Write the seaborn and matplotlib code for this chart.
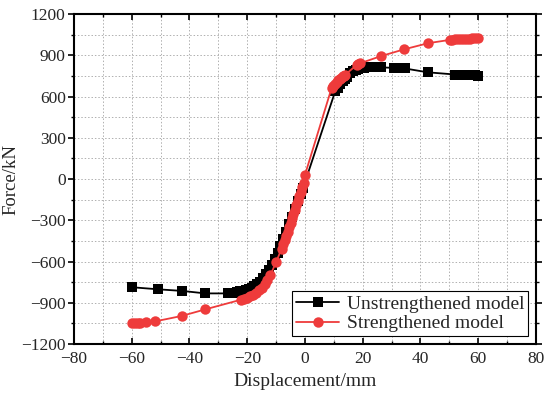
import numpy as np
import pandas as pd
import matplotlib
matplotlib.use('Agg')
import matplotlib.pyplot as plt
from matplotlib.ticker import MultipleLocator
import seaborn as sns

# Unstrengthened model (black squares)
unstr_disp = [-60, -51, -42.5, -34.5, -26.5, -25.5, -24.5, -23.5, -22.5, -21.5, -20.5,
              -19.5, -18.5, -17.5, -16.5, -15.5, -14.5, -13.5, -12.5, -11.5, -10.5,
              -9.5, -8.5, -7.5, -6.5, -5.5, -4.5, -3.5, -2.5, -1.5, -0.6,
              10.5, 11.5, 12.1, 13.0, 13.9, 14.4, 15.5, 16.5, 17.5, 18.5, 19.5, 20.5,
              21.5, 24.5, 25.5, 26.5, 30.8, 31.8, 32.8, 33.8, 34.6, 42.5,
              52, 53, 54, 55, 56, 57, 58, 59, 60]
unstr_force = [-787, -802, -814, -832, -832, -830, -826, -822, -817, -812, -806,
               -799, -790, -779, -765, -746, -722, -693, -660, -622, -580,
               -535, -488, -438, -385, -330, -275, -218, -162, -108, -62,
               640, 665, 690, 710, 730, 745, 768, 783, 794, 801, 806, 809,
               811, 813, 813, 812, 808, 807, 806, 805, 804, 776,
               760, 759, 758, 757, 756, 755, 754, 753, 752]

# Strengthened model (red circles)
str_disp = [-60, -59, -58, -57, -55, -52, -42.7, -34.5, -22, -21, -20, -19, -18, -17,
            -16, -15, -14, -13, -12, -10, -8.1, -7.5, -7, -6.5, -6, -5.5, -5, -4.5,
            -4, -3.5, -3, -2.5, -2, -1.5, -1, -0.5, 0,
            9.2, 9.8, 10.4, 11.0, 11.5, 12.0, 12.5, 13.0, 13.4, 13.85, 17.9, 18.5, 19.1,
            26.5, 34.3, 42.7, 50.2, 51, 52, 53, 54, 55, 56, 57, 58, 59, 60]
str_force = [-1047, -1046, -1045, -1044, -1042, -1036, -996, -948, -877, -870, -862, -852,
             -840, -827, -810, -790, -765, -735, -700, -605, -506, -475, -445, -415,
             -385, -352, -320, -287, -255, -222, -190, -157, -125, -92, -60, -28, 30,
             660, 675, 690, 705, 718, 728, 738, 746, 752, 757, 829, 835, 842,
             895, 943, 988, 1012, 1014, 1016, 1017, 1018, 1019, 1020, 1021, 1022, 1023, 1024]

df = pd.concat([
    pd.DataFrame({'disp': unstr_disp, 'force': unstr_force, 'model': 'Unstrengthened model'}),
    pd.DataFrame({'disp': str_disp, 'force': str_force, 'model': 'Strengthened model'}),
])

sns.set_theme(style='ticks')
plt.rcParams['font.family'] = ['Liberation Serif', 'DejaVu Serif']

fig = plt.figure(figsize=(5.5, 3.97), dpi=100)
ax = fig.add_axes([0.1345, 0.1335, 0.84, 0.8312])

palette = {'Unstrengthened model': 'black', 'Strengthened model': '#ee3b3b'}
markers = {'Unstrengthened model': 's', 'Strengthened model': 'o'}
sns.lineplot(data=df, x='disp', y='force', hue='model', style='model',
             palette=palette, markers=markers, dashes=False, sort=False,
             estimator=None, markersize=7.5, markeredgewidth=0, linewidth=1.3,
             ax=ax)

ax.set_xlim(-80, 80)
ax.set_ylim(-1200, 1200)
ax.xaxis.set_major_locator(MultipleLocator(20))
ax.xaxis.set_minor_locator(MultipleLocator(10))
ax.yaxis.set_major_locator(MultipleLocator(300))
ax.yaxis.set_minor_locator(MultipleLocator(150))

ax.grid(True, which='both', color='#b0b0b0', linestyle=(0, (1.5, 2)), linewidth=0.7)
ax.set_axisbelow(True)
for s in ax.spines.values():
    s.set_linewidth(1.5)
    s.set_color('black')

ax.tick_params(axis='x', which='both', direction='in', top=True, labelsize=12.5, pad=5)
ax.tick_params(axis='y', which='both', direction='out', right=True, labelsize=12.5, pad=2)
ax.tick_params(which='major', length=4, width=1.2, color='black')
ax.tick_params(which='minor', length=2, width=1.0, color='black')

ax.set_xlabel('Displacement/mm', fontsize=14, labelpad=4)
ax.set_ylabel('Force/kN', fontsize=13.5, labelpad=1)

leg = ax.legend(loc='lower right', fontsize=14, frameon=True, fancybox=False,
                edgecolor='black', framealpha=1, borderpad=0.2, labelspacing=0.1,
                handlelength=2.2, handletextpad=0.4, borderaxespad=0.4)
leg.get_frame().set_linewidth(0.8)

fig.savefig('out.png', dpi=100)
